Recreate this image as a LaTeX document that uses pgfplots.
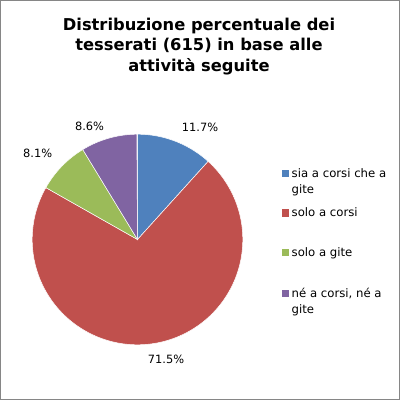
\documentclass[border=0pt]{standalone}
\usepackage{pgfplots}
\pgfplotsset{compat=1.18}
\usepackage{fontspec}
\setmainfont{DejaVu Sans}
\definecolor{cBlue}{HTML}{4F81BD}
\definecolor{cRed}{HTML}{C0504D}
\definecolor{cGreen}{HTML}{9BBB59}
\definecolor{cPurple}{HTML}{8064A2}
\definecolor{cFrame}{HTML}{868686}
% shares (percent)
\def\pA{11.7}\def\pB{71.5}\def\pC{8.1}\def\pD{8.6}
\pgfmathsetmacro{\aO}{90}
\pgfmathsetmacro{\aA}{\aO-3.6*\pA}
\pgfmathsetmacro{\aB}{\aA-3.6*\pB}
\pgfmathsetmacro{\aC}{\aB-3.6*\pC}
\pgfmathsetmacro{\aD}{\aC-3.6*\pD}
\def\cx{137.5}\def\cy{160.5}\def\rr{105.3}
\begin{document}
\begin{tikzpicture}
\begin{axis}[
  width=400bp, height=400bp, scale only axis,
  xmin=0, xmax=400, ymin=0, ymax=400,
  hide axis, clip=false,
]
\addplot[fill=cBlue, draw=white, line width=0.5bp, domain=\aO:\aA, samples=80]
  ({\cx+\rr*cos(x)}, {\cy+\rr*sin(x)}) -- (axis cs:\cx,\cy) -- cycle;
\addplot[fill=cRed, draw=white, line width=0.5bp, domain=\aA:\aB, samples=200]
  ({\cx+\rr*cos(x)}, {\cy+\rr*sin(x)}) -- (axis cs:\cx,\cy) -- cycle;
\addplot[fill=cGreen, draw=white, line width=0.5bp, domain=\aB:\aC, samples=60]
  ({\cx+\rr*cos(x)}, {\cy+\rr*sin(x)}) -- (axis cs:\cx,\cy) -- cycle;
\addplot[fill=cPurple, draw=white, line width=0.5bp, domain=\aC:\aD, samples=60]
  ({\cx+\rr*cos(x)}, {\cy+\rr*sin(x)}) -- (axis cs:\cx,\cy) -- cycle;

% frame
\draw[cFrame, line width=1bp] (axis cs:0.5,0.5) rectangle (axis cs:399.5,399.5);

% title
\begin{scope}[every node/.style={font=\bfseries\fontsize{16.3bp}{21bp}\selectfont, anchor=base, inner sep=0pt}]
\node at (axis cs:199,370) {Distribuzione percentuale dei};
\node at (axis cs:199,349.5) {tesserati (615) in base alle};
\node at (axis cs:199,329) {attività seguite};
\end{scope}

% data labels
\begin{scope}[every node/.style={font=\fontsize{11.4bp}{14bp}\selectfont, anchor=base, inner sep=0pt}]
\node at (axis cs:200,268.5) {11.7\%};
\node at (axis cs:89.5,270) {8.6\%};
\node at (axis cs:37.7,243) {8.1\%};
\node at (axis cs:166,37) {71.5\%};
\end{scope}

% legend
\begin{scope}[every node/.style={font=\fontsize{11.7bp}{16bp}\selectfont, anchor=base west, inner sep=0pt}]
\fill[cBlue]   (axis cs:282,222.7) rectangle (axis cs:289.3,230.0);
\fill[cRed]    (axis cs:282,183.3) rectangle (axis cs:289.3,190.6);
\fill[cGreen]  (axis cs:282,143.6) rectangle (axis cs:289.3,150.9);
\fill[cPurple] (axis cs:282,102.6) rectangle (axis cs:289.3,109.9);
\node at (axis cs:291.5,222.7) {sia a corsi che a};
\node at (axis cs:291.5,206.7) {gite};
\node at (axis cs:291.5,183.3) {solo a corsi};
\node at (axis cs:291.5,143.6) {solo a gite};
\node at (axis cs:291.5,102.6) {né a corsi, né a};
\node at (axis cs:291.5,87.0) {gite};
\end{scope}
\end{axis}
\end{tikzpicture}
\end{document}
